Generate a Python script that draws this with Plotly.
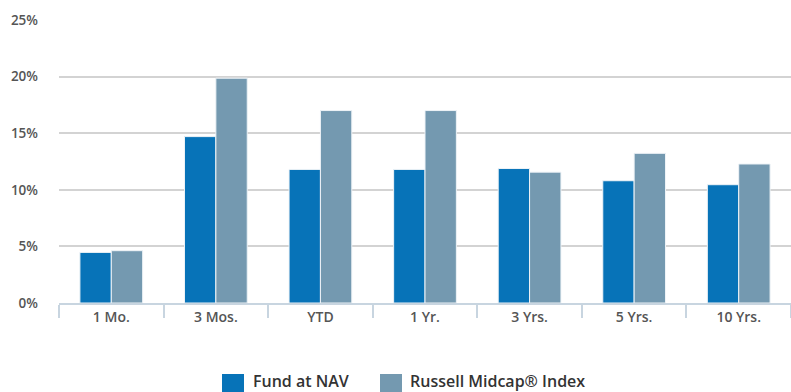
import plotly.graph_objects as go

# Trailing returns (%)
periods = ["1 Mo.", "3 Mos.", "YTD", "1 Yr.", "3 Yrs.", "5 Yrs.", "10 Yrs."]
fund_nav = [4.47, 14.70, 11.80, 11.80, 11.88, 10.80, 10.45]
russell_midcap = [4.62, 19.86, 17.00, 17.00, 11.56, 13.22, 12.28]
y_ticks = [0, 5, 10, 15, 20, 25]
y_tick_labels = ["0%", "5%", "10%", "15%", "20%", "25%"]

series_names = ["Fund at NAV", "Russell Midcap® Index"]
series_colors = ["#0773B8", "#7499B0"]

W, H = 791, 392
M_L, M_R, M_T, M_B = 59, 0, 20, 89
plot_w = W - M_L - M_R
plot_h = H - M_T - M_B

fig = go.Figure()
for name, vals, col in zip(series_names, [fund_nav, russell_midcap], series_colors):
    fig.add_trace(go.Bar(
        x=periods, y=vals, name=name,
        marker=dict(color=col, line=dict(color="#EEF3F7", width=1)),
        hoverinfo="x+y+name",
    ))


def px_x(px):
    return (px - M_L) / plot_w


def px_y(py):
    return (H - M_B - py) / plot_h


# Legend row drawn beneath the axis
shapes = []
annotations = []
legend_items = [(222, 251), (380, 408)]
for (sw_x, txt_x), name, col in zip(legend_items, series_names, series_colors):
    shapes.append(dict(
        type="rect", xref="paper", yref="paper",
        x0=px_x(sw_x), x1=px_x(sw_x + 22), y0=px_y(392), y1=px_y(374),
        fillcolor=col, line=dict(width=0), layer="above",
    ))
    annotations.append(dict(
        xref="paper", yref="paper", x=px_x(txt_x), y=px_y(381),
        xanchor="left", yanchor="middle", text=name, showarrow=False,
        font=dict(family="Open Sans", size=16, color="#333333", weight=600),
    ))

fig.update_layout(
    width=W, height=H,
    margin=dict(l=M_L, r=M_R, t=M_T, b=M_B, pad=0),
    paper_bgcolor="white", plot_bgcolor="white",
    barmode="group", bargap=0.4, bargroupgap=0,
    showlegend=False,
    shapes=shapes, annotations=annotations,
    font=dict(family="Open Sans", color="#555555"),
)
fig.update_xaxes(
    showgrid=False, showline=True, linecolor="#C8D5E0", linewidth=2,
    ticks="outside", tickson="boundaries", ticklen=13, tickwidth=1.5,
    tickcolor="#C8D5E0",
    tickfont=dict(family="Open Sans", size=14, color="#555555", weight=600),
)
fig.update_yaxes(
    range=[0, 25], tickvals=y_ticks, ticktext=y_tick_labels,
    showgrid=True, gridcolor="#D3D3D3", gridwidth=1.5,
    zeroline=False, showline=False, ticks="", ticklabelstandoff=20,
    tickfont=dict(family="Open Sans", size=13.5, color="#555555", weight=600),
)

fig.write_html("out.html")
